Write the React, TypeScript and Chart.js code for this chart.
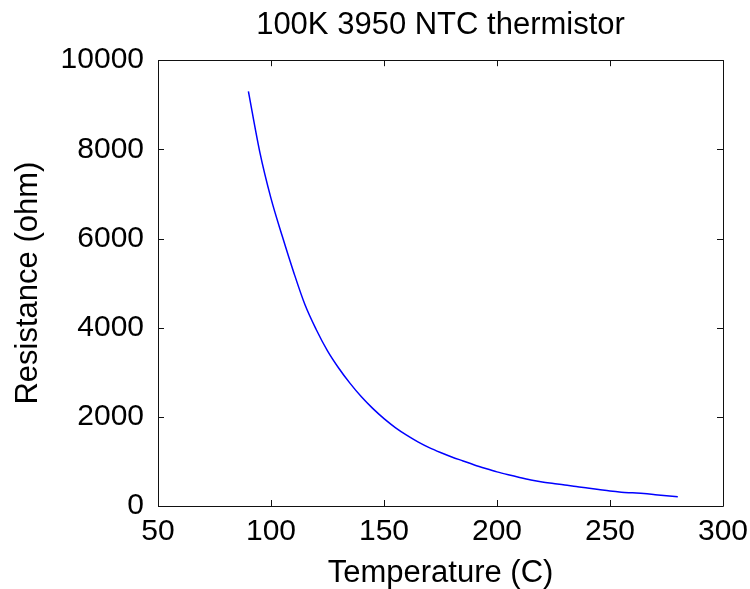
import React, { useEffect, useRef } from "react";
import { Chart, registerables } from "chart.js";

Chart.register(...registerables);

const chartTitle = "100K 3950 NTC thermistor";
const xAxisTitle = "Temperature (C)";
const yAxisTitle = "Resistance (ohm)";

const temperatures = [
  90, 95, 100, 105, 110, 115, 120, 125, 130, 135, 140, 145, 150, 155, 160, 165,
  170, 175, 180, 185, 190, 195, 200, 205, 210, 215, 220, 225, 230, 235, 240,
  245, 250, 255, 260, 265, 270, 275, 280,
];
const resistances = [
  9300, 7950, 6900, 6050, 5250, 4520, 3960, 3480, 3090, 2750, 2450, 2190, 1960,
  1760, 1590, 1440, 1310, 1200, 1100, 1010, 920, 840, 765, 700, 640, 585, 540,
  505, 470, 440, 405, 370, 335, 310, 295, 280, 255, 230, 205,
];

const xTicks = [50, 100, 150, 200, 250, 300];
const yTicks = [0, 2000, 4000, 6000, 8000, 10000];

const FONT = '"Liberation Sans", Arial, Helvetica, sans-serif';

const boxPlugin = {
  id: "matlabBox",
  afterDatasetsDraw(chart: any) {
    const { ctx, chartArea, scales } = chart;
    const { left, right, top, bottom } = chartArea;
    const len = 6;
    ctx.save();
    ctx.strokeStyle = "#111";
    ctx.lineWidth = 1;
    ctx.beginPath();
    ctx.rect(Math.round(left) + 0.5, Math.round(top) + 0.5, Math.round(right - left), Math.round(bottom - top));
    for (const v of xTicks) {
      const px = Math.round(scales.x.getPixelForValue(v)) + 0.5;
      ctx.moveTo(px, bottom);
      ctx.lineTo(px, bottom - len);
      ctx.moveTo(px, top);
      ctx.lineTo(px, top + len);
    }
    for (const v of yTicks) {
      const py = Math.round(scales.y.getPixelForValue(v)) + 0.5;
      ctx.moveTo(left, py);
      ctx.lineTo(left + len, py);
      ctx.moveTo(right, py);
      ctx.lineTo(right - len, py);
    }
    ctx.stroke();
    ctx.restore();
  },
};

export default function App() {
  const ref = useRef<HTMLCanvasElement | null>(null);

  useEffect(() => {
    if (!ref.current) return;
    const points = temperatures.map((t, i) => ({ x: t, y: resistances[i] }));
    const chart = new Chart(ref.current, {
      type: "line",
      data: {
        datasets: [
          {
            data: points,
            borderColor: "#0000ff",
            borderWidth: 1.5,
            pointRadius: 0,
            fill: false,
            cubicInterpolationMode: "monotone",
          },
        ],
      },
      options: {
        animation: false,
        responsive: false,
        maintainAspectRatio: false,
        layout: { padding: { left: 0, right: 27, top: 0, bottom: 0 } },
        plugins: {
          legend: { display: false },
          tooltip: { enabled: false },
          title: {
            display: true,
            text: chartTitle,
            fullSize: false,
            color: "#000",
            font: { family: FONT, size: 31, weight: "normal", lineHeight: 1.2 },
            padding: { top: 7, bottom: 16 },
          },
        },
        scales: {
          x: {
            type: "linear",
            min: 50,
            max: 300,
            afterBuildTicks: (s: any) => {
              s.ticks = xTicks.map((v) => ({ value: v }));
            },
            afterFit: (s: any) => {
              s.height = 83;
              s.paddingLeft = 0;
              s.paddingRight = 0;
            },
            grid: { display: false, drawTicks: false },
            border: { display: false },
            ticks: {
              color: "#000",
              font: { family: FONT, size: 30 },
              padding: 8,
              maxRotation: 0,
              callback: (v: any) => String(v),
            },
            title: {
              display: true,
              text: xAxisTitle,
              color: "#000",
              font: { family: FONT, size: 31, lineHeight: 1 },
              padding: { top: 0, bottom: 0 },
            },
          },
          y: {
            type: "linear",
            min: 0,
            max: 10000,
            afterBuildTicks: (s: any) => {
              s.ticks = yTicks.map((v) => ({ value: v }));
            },
            afterFit: (s: any) => {
              s.width = 158;
              s.paddingTop = 0;
              s.paddingBottom = 0;
            },
            grid: { display: false, drawTicks: false },
            border: { display: false },
            ticks: {
              color: "#000",
              font: { family: FONT, size: 30 },
              padding: 14,
              callback: (v: any) => String(v),
            },
            title: {
              display: true,
              text: yAxisTitle,
              color: "#000",
              font: { family: FONT, size: 31, lineHeight: 1 },
              padding: { top: 13, bottom: 0 },
            },
          },
        },
      },
      plugins: [boxPlugin],
    });
    return () => chart.destroy();
  }, []);

  return (
    <div
      style={{
        position: "fixed",
        left: 0,
        top: 0,
        width: 750,
        height: 589,
        overflow: "hidden",
        background: "#fff",
      }}
    >
      <canvas ref={ref} width={750} height={589} style={{ display: "block" }} />
    </div>
  );
}
